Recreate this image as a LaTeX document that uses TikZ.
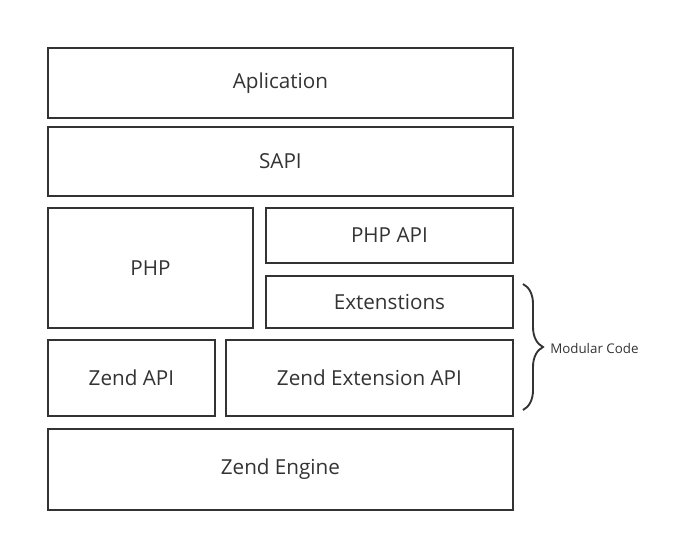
\documentclass[tikz,border=0pt]{standalone}
\usepackage{fontspec}
\setmainfont{Open Sans}
\usetikzlibrary{positioning,decorations.pathreplacing}
\definecolor{boxline}{HTML}{333333}

\begin{document}
\begin{tikzpicture}
[x=0.75pt, y=-0.75pt,
layer/.style={rectangle, draw=boxline, line width=1.4pt, anchor=north west, inner sep=0pt, text=boxline, font=\fontsize{15.5}{18}\selectfont},
wide/.style={layer, minimum width=465*0.75pt},
brc/.style={decorate, decoration={brace, amplitude=15pt}, draw=boxline, line width=1.4pt}]

	\useasboundingbox (0,0) rectangle (673,543);

	\node (app) at (47,47) [wide, minimum height=70*0.75pt]{Aplication};
	\node (sapi) at (47,126) [wide, minimum height=69*0.75pt]{SAPI};
	\node (php) at (47,207) [layer, minimum width=205*0.75pt, minimum height=120*0.75pt]{PHP};
	\node (phpapi) at (265,207) [layer, minimum width=247*0.75pt, minimum height=55*0.75pt]{PHP API};
	\node (ext) at (265,275) [layer, minimum width=247*0.75pt, minimum height=52*0.75pt]{Extenstions};
	\node (zapi) at (47,339) [layer, minimum width=167*0.75pt, minimum height=76*0.75pt]{Zend API};
	\node (zext) at (225,339) [layer, minimum width=287*0.75pt, minimum height=76*0.75pt]{Zend Extension API};
	\node (zeng) at (47,428) [wide, minimum height=81*0.75pt]{Zend Engine};

	\coordinate (modtop) at (523,284);
	\coordinate (modbot) at (523,410);
	\draw[brc] (modtop) -- (modbot);
	\node (mod) at (550,348) [anchor=west, inner sep=0pt, text=boxline, font=\fontsize{10}{12}\selectfont]{Modular Code};

\end{tikzpicture}
\end{document}
